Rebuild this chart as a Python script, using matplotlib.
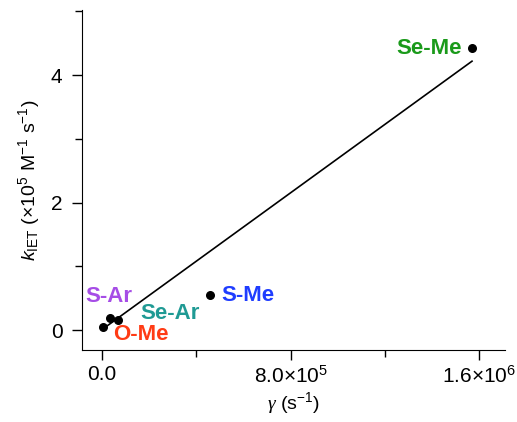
import numpy as np
import matplotlib
matplotlib.use("Agg")
import matplotlib.pyplot as plt
from matplotlib.ticker import MultipleLocator, FixedFormatter, FixedLocator

plt.rcParams['font.family'] = ['Liberation Sans', 'DejaVu Sans']
plt.rcParams['mathtext.fontset'] = 'custom'
plt.rcParams['mathtext.rm'] = 'Liberation Sans'
plt.rcParams['mathtext.it'] = 'Liberation Sans:italic'
plt.rcParams['mathtext.cal'] = 'Liberation Serif:italic'

# data
names = ['O-Me', 'S-Ar', 'Se-Ar', 'S-Me', 'Se-Me']
gamma = [4e3, 3.4e4, 6.8e4, 4.58e5, 1.57e6]
k_iet = [0.05, 0.19, 0.16, 0.55, 4.42]
colors = ['#ff3b14', '#a64de6', '#1f9a94', '#1f3dff', '#1a9a1a']
fit_slope = 2.68e-6
fit_intercept = 0.01

# label anchor (data coords)
lab_x = [4.7e4, -7.2e4, 1.61e5, 5.05e5, 1.528e6]
lab_y = [-0.06, 0.53, 0.27, 0.55, 4.42]
lab_ha = ['left', 'left', 'left', 'left', 'right']

fig = plt.figure(figsize=(5.17, 4.22), dpi=100)
ax = fig.add_axes([82/517, 72/422, 423/517, 340/422])

ax.scatter(gamma, k_iet, s=30, color='black', zorder=3)
xf = np.array([gamma[0], gamma[-1]])
ax.plot(xf, fit_slope * xf + fit_intercept, color='black', lw=1.2)

for n, x, y, c, ha in zip(names, lab_x, lab_y, colors, lab_ha):
    ax.text(x, y, n, color=c, fontsize=16, fontweight='bold',
            va='center', ha=ha)

ax.set_xlim(-0.85e5, 1.71e6)
ax.set_ylim(-0.31, 5.02)
ax.spines['top'].set_visible(False)
ax.spines['right'].set_visible(False)

ax.xaxis.set_major_locator(FixedLocator([0, 8e5, 1.6e6]))
ax.xaxis.set_major_formatter(FixedFormatter(['0.0', '8.0×10$^5$', '1.6×10$^6$']))
ax.xaxis.set_minor_locator(FixedLocator([4e5, 1.2e6]))
ax.yaxis.set_major_locator(MultipleLocator(2))
ax.yaxis.set_minor_locator(MultipleLocator(1))
ax.tick_params(which='major', length=7, width=1, labelsize=15, pad=7)
ax.tick_params(axis='x', which='major', pad=4)
ax.tick_params(which='minor', length=5, width=1)

ax.set_xlabel(r'$\mathcal{\gamma}$ (s$^{-1}$)', fontsize=14, labelpad=2)
ax.set_ylabel(r'$k_{\mathrm{IET}}$ (×10$^5$ M$^{-1}$ s$^{-1}$)', fontsize=14, labelpad=6)

fig.savefig('out.png', dpi=100)
